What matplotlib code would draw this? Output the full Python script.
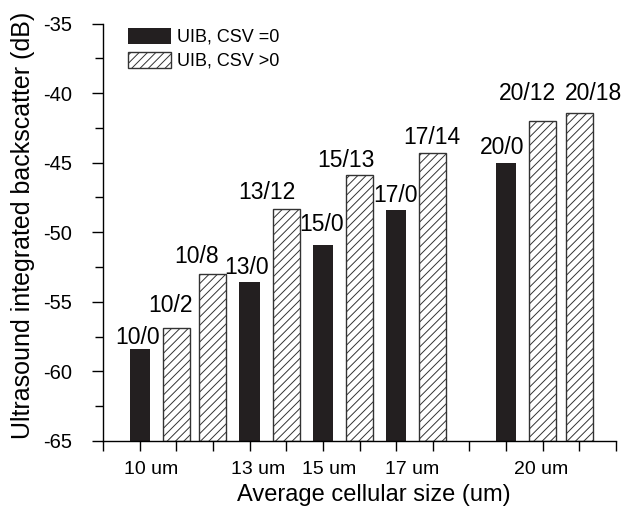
import matplotlib.pyplot as plt
from matplotlib.transforms import blended_transform_factory

plt.rcParams['font.family'] = ['Liberation Sans', 'DejaVu Sans']
plt.rcParams['axes.unicode_minus'] = False
plt.rcParams['hatch.linewidth'] = 0.7

# bar data (left to right)
bar_labels = ['10/0', '10/2', '10/8', '13/0', '13/12', '15/0', '15/13',
              '17/0', '17/14', '20/0', '20/12', '20/18']
values = [-58.4, -56.9, -53.0, -53.6, -48.3, -50.9, -45.9,
          -48.4, -44.3, -45.0, -42.0, -41.4]
csv_positive = [False, True, True, False, True, False, True,
                False, True, False, True, True]
slots = [1, 2, 3, 4, 5, 6, 7, 8, 9, 11, 12, 13]

size_labels = ['10 um', '13 um', '15 um', '17 um', '20 um']
size_label_pos = [1.3, 4.23, 6.17, 8.43, 11.95]

# manual label nudges (pixels): horizontal shift, gap above bar top
label_dx = [-2, -6, -16, -3, -19, -1, -14, -1, -1, -4, -15, 14]
label_gap = [5, 16, 11, 8, 10, 14, 8, 8, 9, 9, 21, 13]

base = -65
fig = plt.figure(figsize=(6.26, 5.08), dpi=100)
ax = fig.add_axes([103 / 626, 1 - 441 / 508, (616 - 103) / 626, (441 - 23.5) / 508])

x0 = [s for s, p in zip(slots, csv_positive) if not p]
v0 = [v - base for v, p in zip(values, csv_positive) if not p]
x1 = [s for s, p in zip(slots, csv_positive) if p]
v1 = [v - base for v, p in zip(values, csv_positive) if p]

ax.bar(x0, v0, bottom=base, width=0.55, color='#231f20', label='UIB, CSV =0')
ax.bar(x1, v1, bottom=base, width=0.74, color='white', edgecolor='#333333',
       linewidth=1.0, hatch='////', label='UIB, CSV >0')

for s, v, t, dx, g in zip(slots, values, bar_labels, label_dx, label_gap):
    ax.annotate(t, (s, v), xytext=(dx * 0.72, g * 0.72), textcoords='offset points',
                ha='center', va='baseline', fontsize=16.5)

ax.set_xlim(0, 14)
ax.set_ylim(-65, -35)
ax.set_xticks(range(15))
ax.set_xticklabels([])
ax.set_yticks(range(-65, -34, 5))
ax.set_yticks([-62.5, -57.5, -52.5, -47.5, -42.5, -37.5], minor=True)
ax.tick_params(axis='y', which='major', length=8, width=1, labelsize=14.5, pad=14)
ax.tick_params(axis='y', which='minor', length=6, width=1)
ax.tick_params(axis='x', which='major', length=7, width=1)
ax.spines['top'].set_visible(False)
ax.spines['right'].set_visible(False)
for sp in ['left', 'bottom']:
    ax.spines[sp].set_linewidth(1.0)

trans = blended_transform_factory(ax.transData, ax.transAxes)
for pos, t in zip(size_label_pos, size_labels):
    ax.text(pos, -0.080, t, transform=trans, ha='center', va='baseline', fontsize=14)

ax.set_xlabel('Average cellular size (um)', fontsize=17, va='baseline')
ax.xaxis.set_label_coords(0.527, -0.143)
ax.set_ylabel('Ultrasound integrated backscatter (dB)', fontsize=18, va='center')
ax.yaxis.set_label_coords(-0.156, 0.517)

ax.legend(loc='upper left', bbox_to_anchor=(128 / 626, 1 - 28 / 508),
          bbox_transform=fig.transFigure, frameon=False, fontsize=13,
          borderpad=0, borderaxespad=0, handlelength=2.4, handleheight=0.95,
          handletextpad=0.33, labelspacing=0.33)

fig.savefig('out.png', dpi=100)
